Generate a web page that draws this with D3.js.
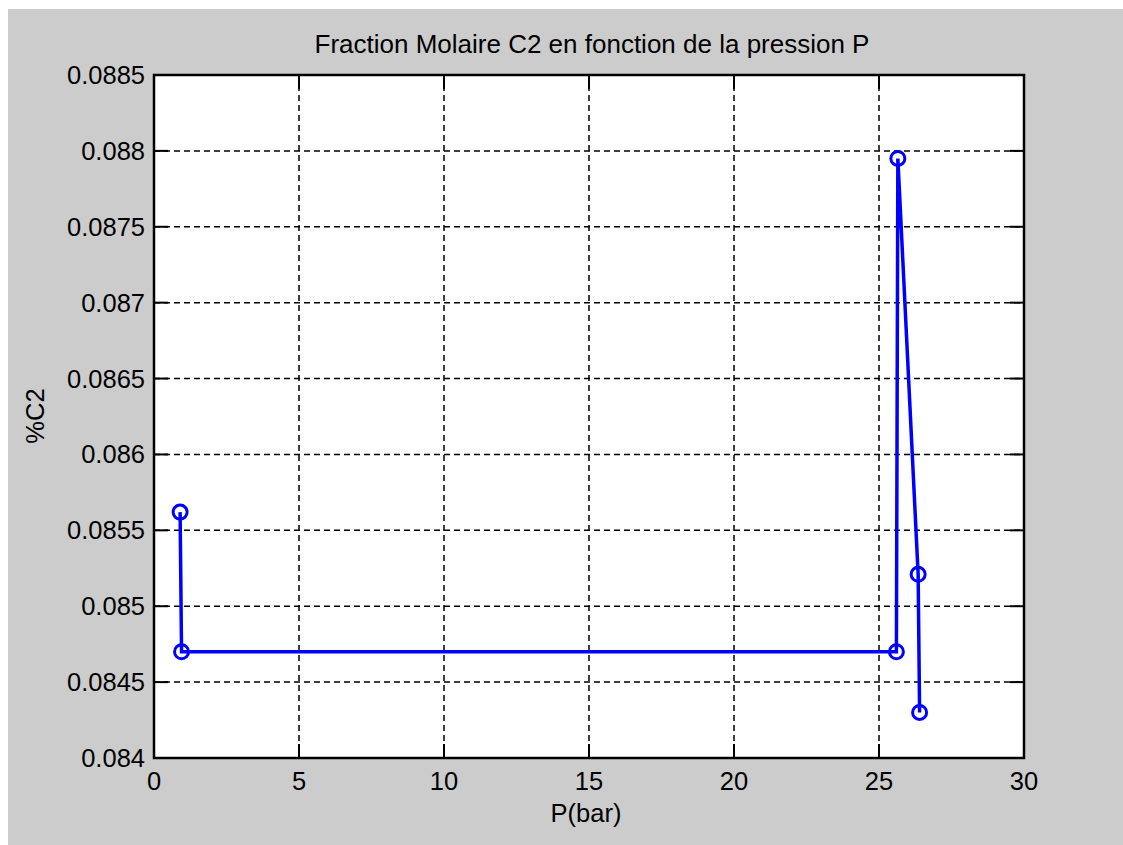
<html>
  <head>
    <script src="https://d3js.org/d3.v7.min.js"></script>
    <style>
      body { margin: 0; background: #ffffff; }
      text { font-family: "Liberation Sans", Arial, sans-serif; fill: #000; }
    </style>
  </head>
  <body>
    <svg width="1123" height="845"></svg>
    <script>
      // data
      var pressure = [0.9, 0.95, 25.6, 25.65, 26.35, 26.4];
      var fraction = [0.08562, 0.0847, 0.0847, 0.08795, 0.08521, 0.0843];

      var xTicks = [0, 5, 10, 15, 20, 25, 30];
      var yTicks = [0.084, 0.0845, 0.085, 0.0855, 0.086, 0.0865, 0.087, 0.0875, 0.088, 0.0885];
      var yTickLabels = ["0.084", "0.0845", "0.085", "0.0855", "0.086", "0.0865", "0.087", "0.0875", "0.088", "0.0885"];

      var svg = d3.select("svg");

      // figure background
      svg.append("rect")
        .attr("x", 8).attr("y", 9)
        .attr("width", 1115).attr("height", 836)
        .attr("fill", "#cccccc");

      // plot box (note: "top" is reserved on window, so use pTop etc.)
      var pLeft = 154, pTop = 75, pRight = 1024, pBottom = 758;

      var x = d3.scaleLinear().domain([0, 30]).range([pLeft, pRight]);
      var y = d3.scaleLinear().domain([0.084, 0.0885]).range([pBottom, pTop]);

      svg.append("rect")
        .attr("x", pLeft).attr("y", pTop)
        .attr("width", pRight - pLeft).attr("height", pBottom - pTop)
        .attr("fill", "#ffffff");

      // grid
      var grid = svg.append("g")
        .attr("stroke", "#000")
        .attr("stroke-width", 1.5)
        .attr("stroke-dasharray", "6,4");

      grid.selectAll(".gx")
        .data(xTicks.slice(1, -1))
        .enter().append("line")
        .attr("x1", function(d) { return x(d); })
        .attr("x2", function(d) { return x(d); })
        .attr("y1", pTop).attr("y2", pBottom);

      grid.selectAll(".gy")
        .data(yTicks.slice(1, -1))
        .enter().append("line")
        .attr("y1", function(d) { return y(d); })
        .attr("y2", function(d) { return y(d); })
        .attr("x1", pLeft).attr("x2", pRight);

      // inward ticks on all sides
      var tl = 14;
      var ticks = svg.append("g").attr("stroke", "#000").attr("stroke-width", 2);
      xTicks.forEach(function(d) {
        ticks.append("line").attr("x1", x(d)).attr("x2", x(d)).attr("y1", pBottom).attr("y2", pBottom - tl);
        ticks.append("line").attr("x1", x(d)).attr("x2", x(d)).attr("y1", pTop).attr("y2", pTop + tl);
      });
      yTicks.forEach(function(d) {
        ticks.append("line").attr("y1", y(d)).attr("y2", y(d)).attr("x1", pLeft).attr("x2", pLeft + tl);
        ticks.append("line").attr("y1", y(d)).attr("y2", y(d)).attr("x1", pRight).attr("x2", pRight - tl);
      });

      // box
      svg.append("rect")
        .attr("x", pLeft).attr("y", pTop)
        .attr("width", pRight - pLeft).attr("height", pBottom - pTop)
        .attr("fill", "none")
        .attr("stroke", "#000")
        .attr("stroke-width", 2.5);

      // tick labels
      svg.append("g").selectAll("text")
        .data(xTicks)
        .enter().append("text")
        .attr("x", function(d) { return x(d); })
        .attr("y", 790)
        .attr("text-anchor", "middle")
        .attr("font-size", "25.5px")
        .text(function(d) { return d; });

      svg.append("g").selectAll("text")
        .data(yTicks)
        .enter().append("text")
        .attr("x", 145)
        .attr("y", function(d) { return y(d) + 9; })
        .attr("text-anchor", "end")
        .attr("font-size", "25.5px")
        .text(function(d, i) { return yTickLabels[i]; });

      // titles
      svg.append("text")
        .attr("x", 592).attr("y", 53)
        .attr("text-anchor", "middle")
        .attr("font-size", "26px")
        .text("Fraction Molaire C2 en fonction de la pression P");

      svg.append("text")
        .attr("x", 586).attr("y", 822)
        .attr("text-anchor", "middle")
        .attr("font-size", "25.5px")
        .text("P(bar)");

      svg.append("text")
        .attr("transform", "translate(44,416) rotate(-90)")
        .attr("text-anchor", "middle")
        .attr("font-size", "25.5px")
        .text("%C2");

      // series
      var pts = pressure.map(function(p, i) { return [p, fraction[i]]; });

      var line = d3.line()
        .x(function(d) { return x(d[0]); })
        .y(function(d) { return y(d[1]); });

      svg.append("path")
        .datum(pts)
        .attr("d", line)
        .attr("fill", "none")
        .attr("stroke", "#0000ff")
        .attr("stroke-width", 3.5);

      svg.append("g").selectAll("circle")
        .data(pts)
        .enter().append("circle")
        .attr("cx", function(d) { return x(d[0]); })
        .attr("cy", function(d) { return y(d[1]); })
        .attr("r", 7)
        .attr("fill", "none")
        .attr("stroke", "#0000ff")
        .attr("stroke-width", 3);
    </script>
  </body>
</html>
